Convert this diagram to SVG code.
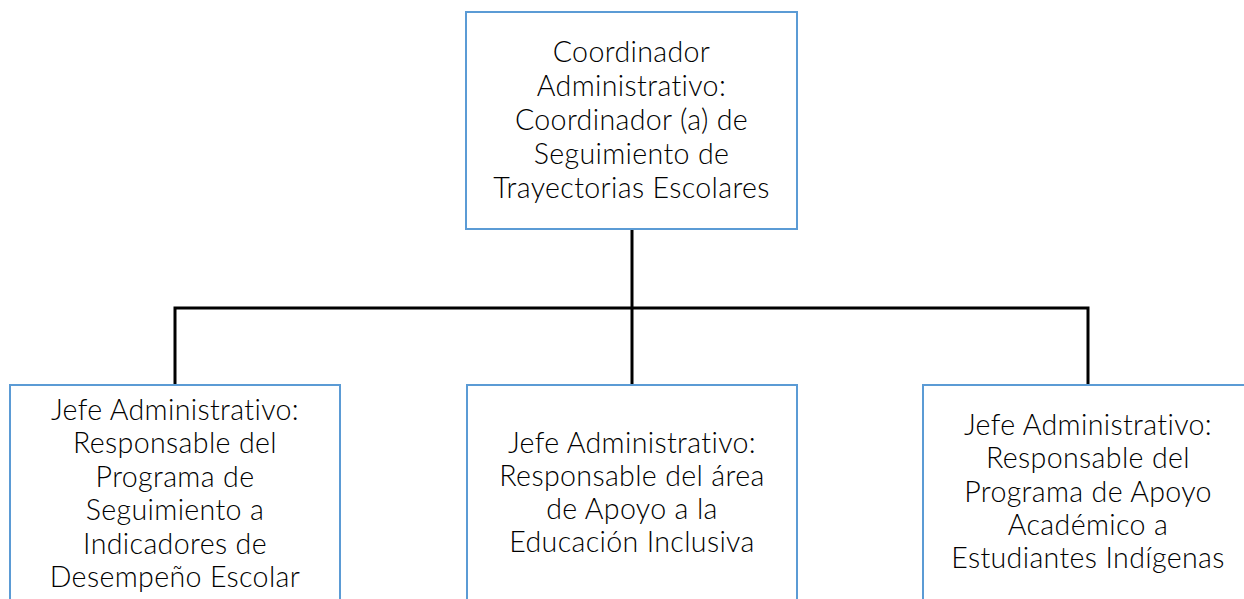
<svg xmlns="http://www.w3.org/2000/svg" width="1244" height="599" viewBox="0 0 1244 599">
<style>
.box{fill:#ffffff;stroke:#5b9bd5;stroke-width:2}
.t{font-family:Lato,"Open Sans","Liberation Sans",sans-serif;font-size:28.6px;font-weight:300;fill:#000000;text-anchor:middle;font-variant-ligatures:none;letter-spacing:0.35px}
.c{fill:none;stroke:#000000;stroke-width:3}
</style>
<rect width="1244" height="599" fill="#ffffff"/>
<g id="connectors">
<path class="c" d="M632 229 V308"/>
<path class="c" d="M175 385 V308 H1088 V385"/>
<path class="c" d="M632 308 V385"/>
</g>
<g id="n0">
<rect class="box" x="466" y="12" width="331" height="217"/>
<text class="t" x="631.5"><tspan x="631.5" y="62">Coordinador</tspan><tspan x="631.5" y="96">Administrativo:</tspan><tspan x="631.5" y="130">Coordinador (a) de</tspan><tspan x="631.5" y="164">Seguimiento de</tspan><tspan x="631.5" y="198">Trayectorias Escolares</tspan></text>
</g>
<g id="n1">
<rect class="box" x="10" y="385" width="330" height="220"/>
<text class="t" x="175"><tspan x="175" y="420">Jefe Administrativo:</tspan><tspan x="175" y="453.4">Responsable del</tspan><tspan x="175" y="486.8">Programa de</tspan><tspan x="175" y="520.2">Seguimiento a</tspan><tspan x="175" y="553.6">Indicadores de</tspan><tspan x="175" y="587">Desempeño Escolar</tspan></text>
</g>
<g id="n2">
<rect class="box" x="467" y="385" width="330" height="220"/>
<text class="t" x="632"><tspan x="632" y="453">Jefe Administrativo:</tspan><tspan x="632" y="486">Responsable del área</tspan><tspan x="632" y="519">de Apoyo a la</tspan><tspan x="632" y="552">Educación Inclusiva</tspan></text>
</g>
<g id="n3">
<rect class="box" x="923" y="385" width="330" height="220"/>
<text class="t" x="1088"><tspan x="1088" y="435">Jefe Administrativo:</tspan><tspan x="1088" y="468.3">Responsable del</tspan><tspan x="1088" y="501.6">Programa de Apoyo</tspan><tspan x="1088" y="534.9">Académico a</tspan><tspan x="1088" y="568.2">Estudiantes Indígenas</tspan></text>
</g>
</svg>
